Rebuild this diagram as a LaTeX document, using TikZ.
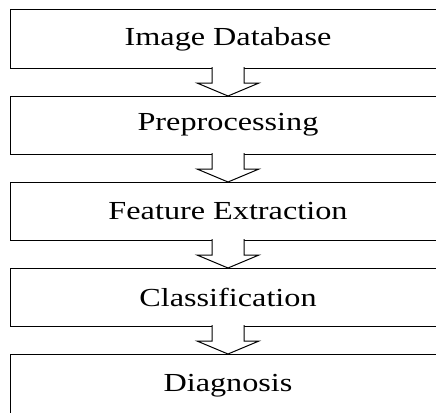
\documentclass[tikz,border=0pt]{standalone}
\usepackage{fontspec}
\setmainfont{Liberation Serif}[FakeStretch=1.24]
\usetikzlibrary{positioning,calc,shadows}

\begin{document}
\begin{tikzpicture}[x=1pt,y=1pt,
    stage/.style={draw, line width=1pt, fill=white, minimum width=436pt, minimum height=58pt,
      inner sep=0pt, outer sep=0pt, font=\fontsize{26}{30}\selectfont,
      drop shadow={shadow xshift=1pt, shadow yshift=-1pt, opacity=0.5}},
    flow/.style={draw, line width=1pt, fill=white, line join=miter}]
  \useasboundingbox (0,0) rectangle (436,-412);
  \clip (0,0) rectangle (436,-412);
  \node[stage] (db) at (228,-39) {Image Database};
  \node[stage, below=28pt of db] (pre) {Preprocessing};
  \node[stage, below=28pt of pre] (feat) {Feature Extraction};
  \node[stage, below=28pt of feat] (cls) {Classification};
  \node[stage, below=28pt of cls, minimum height=63pt] (diag) {Diagnosis};
  \foreach \a/\b in {db/pre, pre/feat, feat/cls, cls/diag}
    \draw[flow] ($(\a.south)+(-16,1)$) -- ($(\a.south)+(-16,-15)$) -- ($(\a.south)+(-31,-15)$)
      -- (\b.north) -- ($(\a.south)+(31,-15)$) -- ($(\a.south)+(16,-15)$) -- ($(\a.south)+(16,1)$);
\end{tikzpicture}
\end{document}
